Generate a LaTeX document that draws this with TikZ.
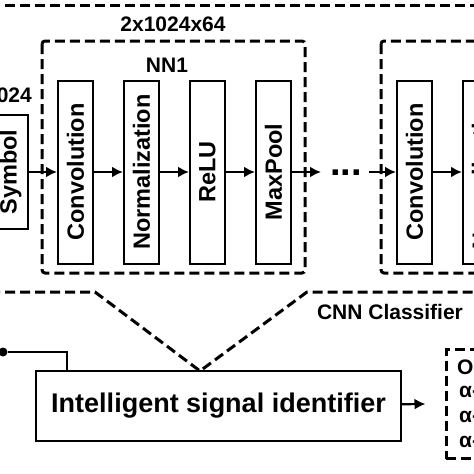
\documentclass[tikz,border=0pt]{standalone}
\usepackage{fontspec}
\usepackage{graphicx}
\setmainfont{Liberation Sans}
\usetikzlibrary{arrows.meta}
\usetikzlibrary{positioning}
\tikzset{layer/.style = {draw, line width=2pt, minimum width=35, minimum height=183,
                         inner sep=0, font=\fontsize{23.5}{27}\selectfont\bfseries}}
\tikzset{frame/.style = {draw, line width=3pt, dash pattern=on 10pt off 5pt}}
\tikzset{title/.style = {inner sep=0, font=\fontsize{21}{25}\selectfont\bfseries}}
\tikzset{flow/.style = {-{Latex[length=11, width=11]}, line width=2.2pt}}
\tikzset{circ/.style = {fill, circle, inner sep=0, minimum size=9}}

\begin{document}
\begin{tikzpicture}[x=1pt, y=-1pt]
      \useasboundingbox (0,0) rectangle (474,474);
      \clip (0,0) rectangle (474,474);

      \draw [frame] (-10,5) -- (484,5);
      \draw [frame] (-10,292) -- (95,292) -- (200,371) -- (307,292) -- (484,292);
      \node [title] (cnn) at (390,312) {CNN Classifier};

      \node [title] (dims) at (173,24) {2x1024x64};
      \node [title, anchor=east] (insize) at (32,95) {024};

      \draw [frame, rounded corners=3] (42,41) rectangle (305,273);
      \node [title] (nn1) at (167,65) {NN1};
      \draw [frame, rounded corners=3] (381,41) rectangle (500,273);

      \node [layer, minimum height=114] (symbol) at (10.5,172) {\rotatebox{90}{Symbol}};

      \node [layer] (conv1) at (75.5,172) {\rotatebox{90}{Convolution}};
      \node [layer, right=29 of conv1] (norm1) {\rotatebox{90}{Normalization}};
      \node [layer, right=29 of norm1] (relu1) {\rotatebox{90}{ReLU}};
      \node [layer, right=29 of relu1] (pool1) {\rotatebox{90}{MaxPool}};

      \node [inner sep=0, font=\fontsize{38}{40}\selectfont\bfseries, anchor=base] (dots) at (346,175) {...};
      \coordinate (dotsin) at (321,172);
      \coordinate (dotsout) at (369,172);

      \node [layer] (conv2) at (414.5,172) {\rotatebox{90}{Convolution}};
      \node [layer, right=29 of conv2] (norm2) {\rotatebox{90}{Normalization}};

      \draw [flow] (symbol) -- (conv1);
      \draw [flow] (conv1) -- (norm1);
      \draw [flow] (norm1) -- (relu1);
      \draw [flow] (relu1) -- (pool1);
      \draw [flow] (pool1) -- (dotsin);
      \draw [flow] (dotsout) -- (conv2);
      \draw [flow] (conv2) -- (norm2);

      \node [layer, minimum width=365, minimum height=70, font=\fontsize{27}{31}\selectfont\bfseries] (ident) at (218.5,406) {Intelligent signal identifier};
      \node [circ] (src) at (3,352) {};
      \draw [line width=2pt] (src) -| ([xshift=32]ident.north west);

      \node [frame, minimum width=120, minimum height=109] (out) at (506,404) {};
      \draw [flow] (ident) -- ([xshift=-19]out.west);
      \node [title, anchor=base west] (outhead) at (457,374) {O};
      \node [title, anchor=base west] (outa) at (459,397) {α-};
      \node [title, anchor=base west] (outb) at (459,422) {α-};
      \node [title, anchor=base west] (outc) at (459,447) {α-};
\end{tikzpicture}
\end{document}
